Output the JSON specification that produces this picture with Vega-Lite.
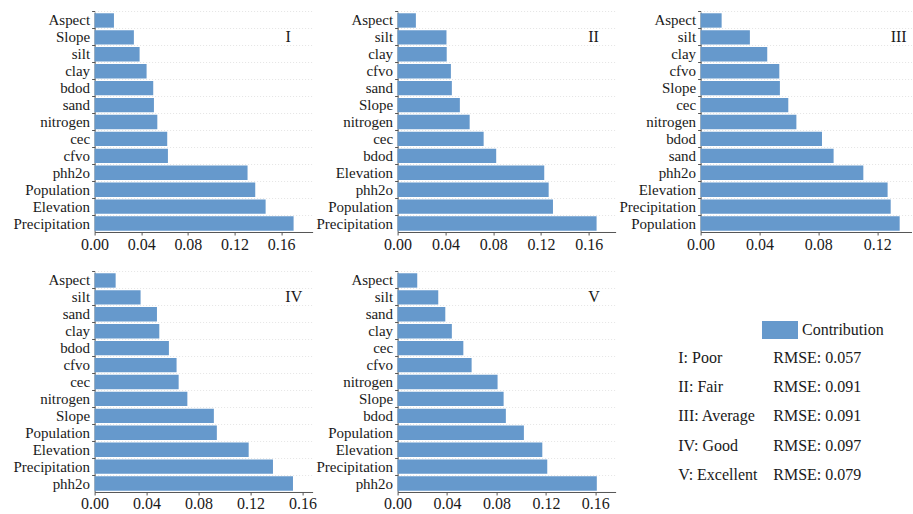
{
  "$schema": "https://vega.github.io/schema/vega-lite/v6.json",
  "background": "white",
  "padding": {"left": 12.6, "top": 10, "right": 0, "bottom": 0},
  "config": {
    "font": "Liberation Serif",
    "view": {"stroke": null},
    "axis": {
      "labelFont": "Liberation Serif",
      "labelColor": "#1a1a1a",
      "domainColor": "#555555",
      "tickColor": "#555555",
      "domainWidth": 1,
      "tickWidth": 1
    },
    "axisX": {
      "tickSize": 3,
      "labelPadding": 1,
      "labelFontSize": 16,
      "grid": false,
      "labelOverlap": false,
      "labelFlush": false,
      "labelBound": false,
      "labelExpr": "round(datum.value * 100) % 4 === 0 ? format(datum.value, '.2f') : ''"
    },
    "axisY": {
      "tickSize": 3,
      "labelPadding": 2,
      "labelFontSize": 15,
      "grid": true,
      "gridDash": [1, 2],
      "gridColor": "#e4e4e4",
      "bandPosition": -0.09,
      "labelOverlap": false
    },
    "text": {"font": "Liberation Serif", "fontSize": 16, "color": "#1a1a1a"}
  },
  "datasets": {
    "contrib": [
      {"model": "I", "factor": "Aspect", "value": 0.0166},
      {"model": "I", "factor": "Slope", "value": 0.0337},
      {"model": "I", "factor": "silt", "value": 0.0386},
      {"model": "I", "factor": "clay", "value": 0.0446},
      {"model": "I", "factor": "bdod", "value": 0.0503},
      {"model": "I", "factor": "sand", "value": 0.0509},
      {"model": "I", "factor": "nitrogen", "value": 0.0538},
      {"model": "I", "factor": "cec", "value": 0.0623},
      {"model": "I", "factor": "cfvo", "value": 0.0629},
      {"model": "I", "factor": "phh2o", "value": 0.1312},
      {"model": "I", "factor": "Population", "value": 0.1378},
      {"model": "I", "factor": "Elevation", "value": 0.1467},
      {"model": "I", "factor": "Precipitation", "value": 0.1707},
      {"model": "II", "factor": "Aspect", "value": 0.0153},
      {"model": "II", "factor": "silt", "value": 0.0409},
      {"model": "II", "factor": "clay", "value": 0.0411},
      {"model": "II", "factor": "cfvo", "value": 0.0446},
      {"model": "II", "factor": "sand", "value": 0.0454},
      {"model": "II", "factor": "Slope", "value": 0.0521},
      {"model": "II", "factor": "nitrogen", "value": 0.0603},
      {"model": "II", "factor": "cec", "value": 0.0720},
      {"model": "II", "factor": "bdod", "value": 0.0825},
      {"model": "II", "factor": "Elevation", "value": 0.1227},
      {"model": "II", "factor": "phh2o", "value": 0.1264},
      {"model": "II", "factor": "Population", "value": 0.1300},
      {"model": "II", "factor": "Precipitation", "value": 0.1665},
      {"model": "III", "factor": "Aspect", "value": 0.0143},
      {"model": "III", "factor": "silt", "value": 0.0335},
      {"model": "III", "factor": "clay", "value": 0.0453},
      {"model": "III", "factor": "cfvo", "value": 0.0535},
      {"model": "III", "factor": "Slope", "value": 0.0539},
      {"model": "III", "factor": "cec", "value": 0.0596},
      {"model": "III", "factor": "nitrogen", "value": 0.0651},
      {"model": "III", "factor": "bdod", "value": 0.0825},
      {"model": "III", "factor": "sand", "value": 0.0904},
      {"model": "III", "factor": "phh2o", "value": 0.1106},
      {"model": "III", "factor": "Elevation", "value": 0.1271},
      {"model": "III", "factor": "Precipitation", "value": 0.1292},
      {"model": "III", "factor": "Population", "value": 0.1353},
      {"model": "IV", "factor": "Aspect", "value": 0.0162},
      {"model": "IV", "factor": "silt", "value": 0.0354},
      {"model": "IV", "factor": "sand", "value": 0.0480},
      {"model": "IV", "factor": "clay", "value": 0.0498},
      {"model": "IV", "factor": "bdod", "value": 0.0572},
      {"model": "IV", "factor": "cfvo", "value": 0.0631},
      {"model": "IV", "factor": "cec", "value": 0.0647},
      {"model": "IV", "factor": "nitrogen", "value": 0.0714},
      {"model": "IV", "factor": "Slope", "value": 0.0918},
      {"model": "IV", "factor": "Population", "value": 0.0941},
      {"model": "IV", "factor": "Elevation", "value": 0.1186},
      {"model": "IV", "factor": "Precipitation", "value": 0.1373},
      {"model": "IV", "factor": "phh2o", "value": 0.1527},
      {"model": "V", "factor": "Aspect", "value": 0.0159},
      {"model": "V", "factor": "silt", "value": 0.0329},
      {"model": "V", "factor": "sand", "value": 0.0386},
      {"model": "V", "factor": "clay", "value": 0.0439},
      {"model": "V", "factor": "cec", "value": 0.0532},
      {"model": "V", "factor": "cfvo", "value": 0.0599},
      {"model": "V", "factor": "nitrogen", "value": 0.0809},
      {"model": "V", "factor": "Slope", "value": 0.0858},
      {"model": "V", "factor": "bdod", "value": 0.0876},
      {"model": "V", "factor": "Population", "value": 0.1022},
      {"model": "V", "factor": "Elevation", "value": 0.1171},
      {"model": "V", "factor": "Precipitation", "value": 0.1211},
      {"model": "V", "factor": "phh2o", "value": 0.1612}
    ],
    "fit": [
      {"grade": "I: Poor", "rmse": 0.057},
      {"grade": "II: Fair", "rmse": 0.091},
      {"grade": "III: Average", "rmse": 0.091},
      {"grade": "IV: Good", "rmse": 0.097},
      {"grade": "V: Excellent", "rmse": 0.079}
    ]
  },
  "spacing": 18,
  "vconcat": [
    {
      "hconcat": [
        {
          "width": 218, "height": 220,
          "layer": [
            {
              "data": {"name": "contrib"},
              "transform": [{"filter": "datum.model === 'I'"}],
              "mark": "bar",
              "encoding": {
                "y": {"field": "factor", "type": "nominal", "title": null,
                  "scale": {"domain": ["Aspect", "Slope", "silt", "clay", "bdod", "sand", "nitrogen", "cec", "cfvo", "phh2o", "Population", "Elevation", "Precipitation"], "paddingInner": 0.15, "paddingOuter": 0.075}},
                "x": {"field": "value", "type": "quantitative", "title": null,
                  "scale": {"domain": [0, 0.187], "nice": false},
                  "axis": {"values": [0, 0.01, 0.02, 0.03, 0.04, 0.05, 0.06, 0.07, 0.08, 0.09, 0.1, 0.11, 0.12, 0.13, 0.14, 0.15, 0.16, 0.17, 0.18]}},
                "color": {"datum": "Contribution", "type": "nominal", "scale": {"range": ["#6699cc"]},
                  "legend": {"orient": "none", "legendX": 667.4, "legendY": 300, "title": null, "padding": 0,
                    "symbolType": "M-1,-0.5H1V0.5H-1Z", "symbolSize": 1296, "symbolStrokeWidth": 0,
                    "labelFont": "Liberation Serif", "labelFontSize": 16, "labelColor": "#1a1a1a", "labelOffset": 4}}
              }
            },
            {
              "data": {"values": [{"numeral": "I"}]},
              "mark": {"type": "text", "align": "center", "baseline": "middle"},
              "encoding": {
                "x": {"datum": 0.166, "type": "quantitative", "title": null},
                "y": {"datum": "Slope", "type": "nominal", "title": null},
                "text": {"field": "numeral"}
              }
            }
          ]
        },
        {
          "width": 218, "height": 220,
          "layer": [
            {
              "data": {"name": "contrib"},
              "transform": [{"filter": "datum.model === 'II'"}],
              "mark": "bar",
              "encoding": {
                "y": {"field": "factor", "type": "nominal", "title": null,
                  "scale": {"domain": ["Aspect", "silt", "clay", "cfvo", "sand", "Slope", "nitrogen", "cec", "bdod", "Elevation", "phh2o", "Population", "Precipitation"], "paddingInner": 0.15, "paddingOuter": 0.075}},
                "x": {"field": "value", "type": "quantitative", "title": null,
                  "scale": {"domain": [0, 0.1824], "nice": false},
                  "axis": {"values": [0, 0.01, 0.02, 0.03, 0.04, 0.05, 0.06, 0.07, 0.08, 0.09, 0.1, 0.11, 0.12, 0.13, 0.14, 0.15, 0.16, 0.17, 0.18]}},
                "color": {"datum": "Contribution", "type": "nominal"}
              }
            },
            {
              "data": {"values": [{"numeral": "II"}]},
              "mark": {"type": "text", "align": "center", "baseline": "middle"},
              "encoding": {
                "x": {"datum": 0.164, "type": "quantitative", "title": null},
                "y": {"datum": "silt", "type": "nominal", "title": null},
                "text": {"field": "numeral"}
              }
            }
          ]
        },
        {
          "width": 211, "height": 220,
          "layer": [
            {
              "data": {"name": "contrib"},
              "transform": [{"filter": "datum.model === 'III'"}],
              "mark": "bar",
              "encoding": {
                "y": {"field": "factor", "type": "nominal", "title": null,
                  "scale": {"domain": ["Aspect", "silt", "clay", "cfvo", "Slope", "cec", "nitrogen", "bdod", "sand", "phh2o", "Elevation", "Precipitation", "Population"], "paddingInner": 0.15, "paddingOuter": 0.075}},
                "x": {"field": "value", "type": "quantitative", "title": null,
                  "scale": {"domain": [0, 0.1434], "nice": false},
                  "axis": {"values": [0, 0.01, 0.02, 0.03, 0.04, 0.05, 0.06, 0.07, 0.08, 0.09, 0.1, 0.11, 0.12, 0.13, 0.14]}},
                "color": {"datum": "Contribution", "type": "nominal"}
              }
            },
            {
              "data": {"values": [{"numeral": "III"}]},
              "mark": {"type": "text", "align": "center", "baseline": "middle"},
              "encoding": {
                "x": {"datum": 0.1346, "type": "quantitative", "title": null},
                "y": {"datum": "silt", "type": "nominal", "title": null},
                "text": {"field": "numeral"}
              }
            }
          ]
        }
      ],
      "spacing": 85,
      "bounds": "flush"
    },
    {
      "hconcat": [
        {
          "hconcat": [
            {
              "width": 218, "height": 220,
              "layer": [
                {
                  "data": {"name": "contrib"},
                  "transform": [{"filter": "datum.model === 'IV'"}],
                  "mark": "bar",
                  "encoding": {
                    "y": {"field": "factor", "type": "nominal", "title": null,
                      "scale": {"domain": ["Aspect", "silt", "sand", "clay", "bdod", "cfvo", "cec", "nitrogen", "Slope", "Population", "Elevation", "Precipitation", "phh2o"], "paddingInner": 0.15, "paddingOuter": 0.075}},
                    "x": {"field": "value", "type": "quantitative", "title": null,
                      "scale": {"domain": [0, 0.1678], "nice": false},
                      "axis": {"values": [0, 0.01, 0.02, 0.03, 0.04, 0.05, 0.06, 0.07, 0.08, 0.09, 0.1, 0.11, 0.12, 0.13, 0.14, 0.15, 0.16]}},
                    "color": {"datum": "Contribution", "type": "nominal"}
                  }
                },
                {
                  "data": {"values": [{"numeral": "IV"}]},
                  "mark": {"type": "text", "align": "center", "baseline": "middle"},
                  "encoding": {
                    "x": {"datum": 0.1533, "type": "quantitative", "title": null},
                    "y": {"datum": "silt", "type": "nominal", "title": null},
                    "text": {"field": "numeral"}
                  }
                }
              ]
            },
            {
              "width": 218, "height": 220,
              "layer": [
                {
                  "data": {"name": "contrib"},
                  "transform": [{"filter": "datum.model === 'V'"}],
                  "mark": "bar",
                  "encoding": {
                    "y": {"field": "factor", "type": "nominal", "title": null,
                      "scale": {"domain": ["Aspect", "silt", "sand", "clay", "cec", "cfvo", "nitrogen", "Slope", "bdod", "Population", "Elevation", "Precipitation", "phh2o"], "paddingInner": 0.15, "paddingOuter": 0.075}},
                    "x": {"field": "value", "type": "quantitative", "title": null,
                      "scale": {"domain": [0, 0.1764], "nice": false},
                      "axis": {"values": [0, 0.01, 0.02, 0.03, 0.04, 0.05, 0.06, 0.07, 0.08, 0.09, 0.1, 0.11, 0.12, 0.13, 0.14, 0.15, 0.16, 0.17]}},
                    "color": {"datum": "Contribution", "type": "nominal"}
                  }
                },
                {
                  "data": {"values": [{"numeral": "V"}]},
                  "mark": {"type": "text", "align": "center", "baseline": "middle"},
                  "encoding": {
                    "x": {"datum": 0.159, "type": "quantitative", "title": null},
                    "y": {"datum": "silt", "type": "nominal", "title": null},
                    "text": {"field": "numeral"}
                  }
                }
              ]
            }
          ],
          "spacing": 85,
          "bounds": "flush"
        },
        {
          "width": 95, "height": 220,
          "data": {"name": "fit"},
          "transform": [
            {"window": [{"op": "row_number", "as": "rank"}]},
            {"calculate": "'RMSE: ' + format(datum.rmse, '.3f')", "as": "rmseLabel"}
          ],
          "encoding": {
            "y": {"field": "rank", "type": "quantitative", "axis": null,
              "scale": {"domain": [-1.933, 5.588], "reverse": true, "nice": false, "zero": false}}
          },
          "layer": [
            {
              "mark": {"type": "text", "align": "left", "baseline": "middle"},
              "encoding": {
                "x": {"datum": "grade", "type": "nominal", "axis": null,
                  "scale": {"type": "point", "domain": ["grade", "rmse"], "padding": 0}},
                "text": {"field": "grade"}
              }
            },
            {
              "mark": {"type": "text", "align": "left", "baseline": "middle"},
              "encoding": {
                "x": {"datum": "rmse", "type": "nominal", "axis": null},
                "text": {"field": "rmseLabel"}
              }
            }
          ]
        }
      ],
      "spacing": 62.7
    }
  ]
}
